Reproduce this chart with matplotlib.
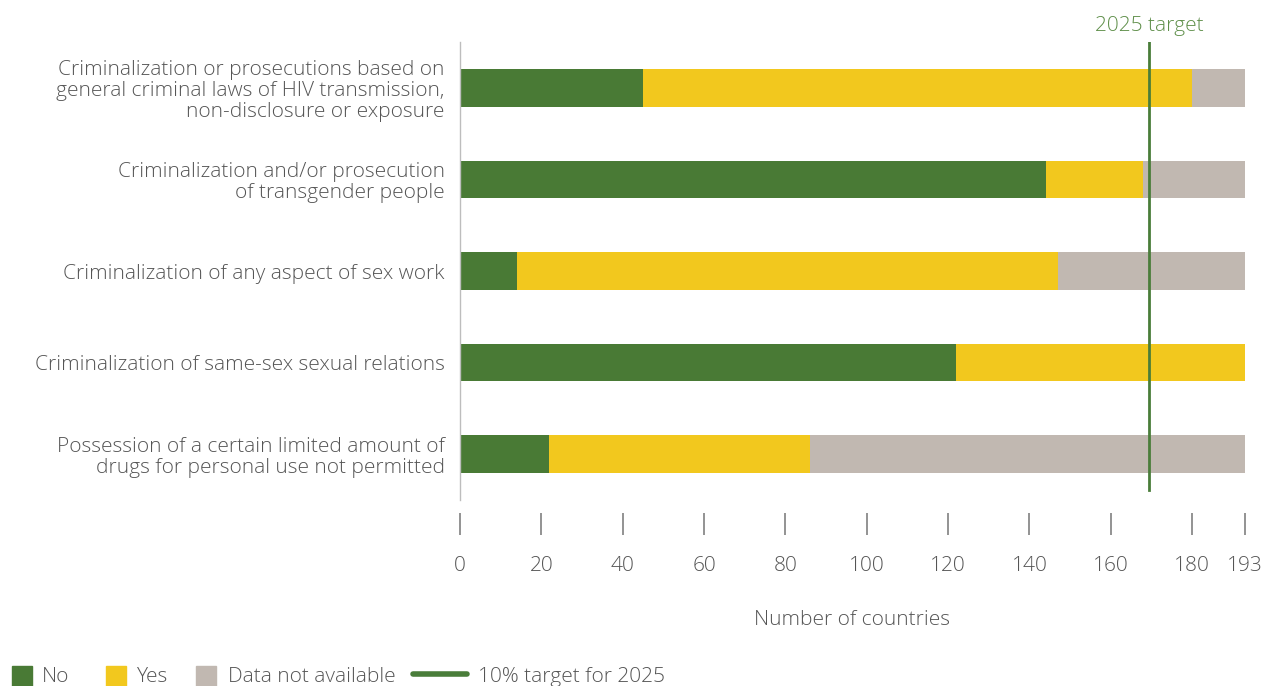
import matplotlib.pyplot as plt
from matplotlib.patches import Rectangle
from matplotlib.lines import Line2D
import numpy as np

plt.rcParams['font.family'] = ['Open Sans', 'DejaVu Sans']
plt.rcParams['font.weight'] = 'light'
plt.rcParams['axes.labelweight'] = 'light'

# data (number of countries)
categories = [
    'Criminalization or prosecutions based on\ngeneral criminal laws of HIV transmission,\nnon-disclosure or exposure',
    'Criminalization and/or prosecution\nof transgender people',
    'Criminalization of any aspect of sex work',
    'Criminalization of same-sex sexual relations',
    'Possession of a certain limited amount of\ndrugs for personal use not permitted',
]
no_vals = [45, 144, 14, 122, 22]
yes_vals = [135, 24, 133, 71, 64]
na_vals = [13, 25, 46, 0, 107]
target = 169.5
xticks = [0, 20, 40, 60, 80, 100, 120, 140, 160, 180, 193]

c_no = '#497a35'
c_yes = '#f2c81e'
c_na = '#c1b8b1'
c_text = '#555555'
fs = 15

fig = plt.figure(figsize=(12.79, 6.86), dpi=100)
ax = fig.add_axes([460 / 1279, 186 / 686, 785 / 1279, 458 / 686])

y = np.arange(len(categories))
no = np.array(no_vals)
yes = np.array(yes_vals)
na = np.array(na_vals)
h = 0.41
ax.barh(y, no, height=h, color=c_no)
ax.barh(y, yes, left=no, height=h, color=c_yes)
ax.barh(y, na, left=no + yes, height=h, color=c_na)

ax.set_ylim(len(categories) - 0.5, -0.5)
ax.set_xlim(0, 193)

ax.axvline(target, ymin=0.022, ymax=1, color='#4a7d3a', lw=2)
ax.text(target, -0.5 - 0.07, '2025 target', ha='center', va='bottom',
        color='#5f8f4a', fontsize=fs)

ax.spines['bottom'].set_position(('outward', 9.5))
ax.spines['bottom'].set_visible(False)
ax.spines['top'].set_visible(False)
ax.spines['right'].set_visible(False)
ax.spines['left'].set_color('#bdbdbd')
ax.spines['left'].set_linewidth(1)

ax.set_yticks(y)
ax.set_yticklabels(categories, fontsize=fs, color=c_text, ha='right',
                   multialignment='right', linespacing=1.08)
ax.tick_params(axis='y', length=0, pad=11)

ax.set_xticks(xticks)
ax.set_xticklabels([str(t) for t in xticks])
ax.tick_params(axis='x', length=16, width=1.3, color='#8a8a8a', pad=15,
               labelsize=fs, labelcolor=c_text)
ax.set_xlabel('Number of countries', fontsize=fs, color=c_text, labelpad=24,
              fontweight='light')

# legend along the bottom edge
W, H = 1279, 686
leg = [(12, 42, c_no, 'No'), (106, 137, c_yes, 'Yes'),
       (196, 228, c_na, 'Data not available')]
for px, tx, col, lab in leg:
    fig.add_artist(Rectangle((px / W, 0), 20 / W, 20 / H, color=col,
                             transform=fig.transFigure))
    fig.text(tx / W, 9 / H, lab, fontsize=fs, color=c_text, va='center')
fig.add_artist(Line2D([413 / W, 467 / W], [12 / H, 12 / H], color='#4a7d3a',
                      lw=4, solid_capstyle='round', transform=fig.transFigure))
fig.text(478 / W, 9 / H, '10% target for 2025', fontsize=fs,
         color=c_text, va='center')

fig.savefig('out.png', dpi=100)
